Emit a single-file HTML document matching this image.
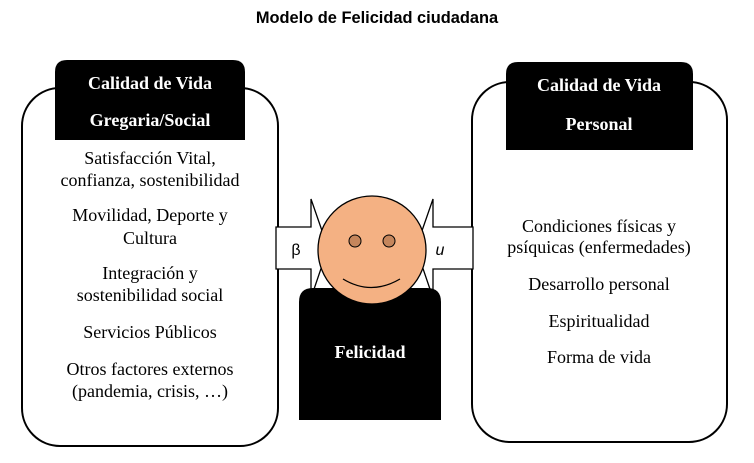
<!DOCTYPE html>
<html><head><meta charset="utf-8"><style>
body{margin:0;background:#fff;}
svg text{font-family:"Liberation Serif",serif;}
</style></head><body>
<svg width="754" height="458" viewBox="0 0 754 458" xmlns="http://www.w3.org/2000/svg">
<text x="377" y="23" text-anchor="middle" style="font-family:'Liberation Sans',sans-serif;font-weight:bold;font-size:16.4px">Modelo de Felicidad ciudadana</text>
<rect x="22" y="88" width="256" height="358" rx="38" ry="38" fill="#fff" stroke="#000" stroke-width="2"/>
<path d="M55 140 V72 Q55 60 67 60 H233 Q245 60 245 72 V140 Z" fill="#000"/>
<text x="150" y="89" text-anchor="middle" fill="#fff" font-weight="bold" font-size="18">Calidad de Vida</text>
<text x="150" y="126" text-anchor="middle" fill="#fff" font-weight="bold" font-size="18">Gregaria/Social</text>
<g font-size="18" text-anchor="middle">
<text x="150" y="164">Satisfacción Vital,</text>
<text x="150" y="186">confianza, sostenibilidad</text>
<text x="150" y="221">Movilidad, Deporte y</text>
<text x="150" y="244">Cultura</text>
<text x="150" y="279">Integración y</text>
<text x="150" y="301">sostenibilidad social</text>
<text x="150" y="338">Servicios Públicos</text>
<text x="150" y="375">Otros factores externos</text>
<text x="150" y="397">(pandemia, crisis, …)</text>
</g>
<rect x="472" y="82" width="255" height="360" rx="38" ry="38" fill="#fff" stroke="#000" stroke-width="2"/>
<path d="M506 150 V74 Q506 62 518 62 H681 Q693 62 693 74 V150 Z" fill="#000"/>
<text x="599" y="91" text-anchor="middle" fill="#fff" font-weight="bold" font-size="18">Calidad de Vida</text>
<text x="599" y="130" text-anchor="middle" fill="#fff" font-weight="bold" font-size="18">Personal</text>
<g font-size="18" text-anchor="middle">
<text x="599" y="232">Condiciones físicas y</text>
<text x="599" y="253">psíquicas (enfermedades)</text>
<text x="599" y="290">Desarrollo personal</text>
<text x="599" y="327">Espiritualidad</text>
<text x="599" y="363">Forma de vida</text>
</g>
<path d="M276 227 H311 V199 L328 248 L311 298 V269 H276 Z" fill="#fff" stroke="#000" stroke-width="1.3"/>
<path d="M473 227 H433 V199 L416 248 L433 298 V269 H473 Z" fill="#fff" stroke="#000" stroke-width="1.3"/>
<text x="296" y="255" text-anchor="middle" style="font-family:'Liberation Sans',sans-serif" font-size="16">β</text>
<text x="440" y="255" text-anchor="middle" style="font-family:'Liberation Sans',sans-serif;font-style:italic" font-size="16">u</text>
<path d="M299 420 V302 Q299 288 313 288 H427 Q441 288 441 302 V420 Z" fill="#000"/>
<text x="370" y="358" text-anchor="middle" fill="#fff" font-weight="bold" font-size="18">Felicidad</text>
<circle cx="372" cy="250" r="54" fill="#f4b183" stroke="#000" stroke-width="1.3"/>
<circle cx="355" cy="241" r="6" fill="#c5865c" stroke="#000" stroke-width="1"/>
<circle cx="389" cy="241" r="6" fill="#c5865c" stroke="#000" stroke-width="1"/>
<path d="M343 279 Q371 296 400 279" fill="none" stroke="#000" stroke-width="1.3"/>
</svg>
</body></html>
